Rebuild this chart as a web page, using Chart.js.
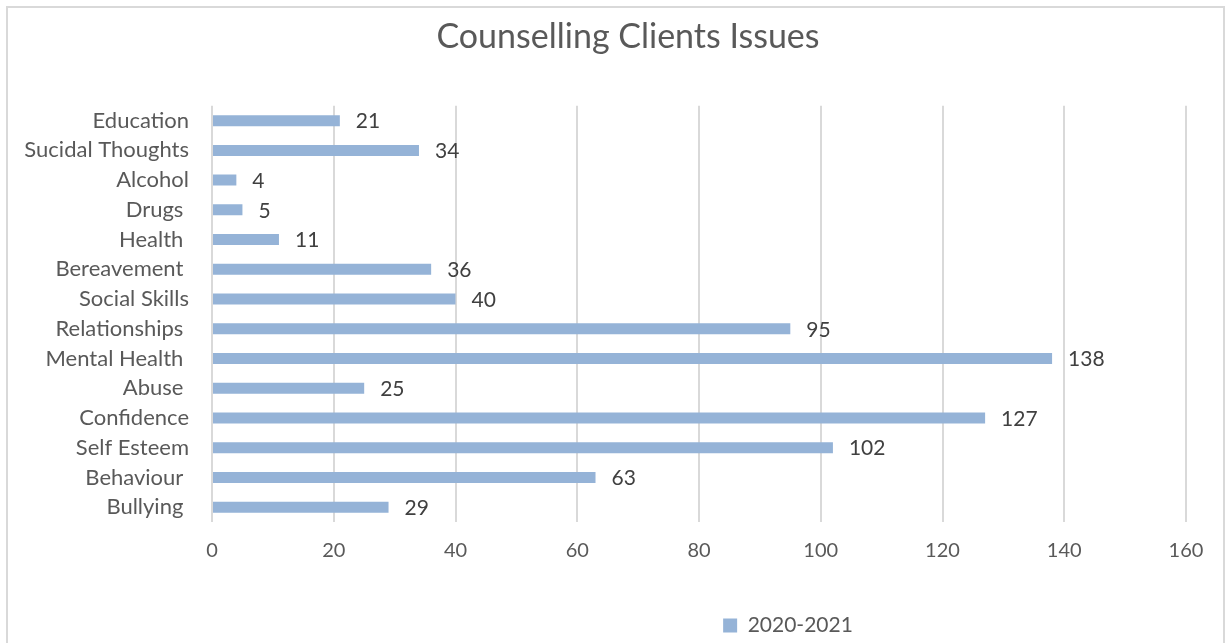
<!DOCTYPE html>
<html>
<head>
<meta charset="utf-8">
<script src="https://cdn.jsdelivr.net/npm/chart.js@4"></script>
<style>
  html, body { margin: 0; padding: 0; background: #fff; }
  #wrap { width: 1226px; height: 643px; }
</style>
</head>
<body>
<div id="wrap"><canvas id="chart" width="1226" height="643"></canvas></div>
<script>
const categories = ['Education', 'Sucidal Thoughts', 'Alcohol', 'Drugs ', 'Health ', 'Bereavement ', 'Social Skills',
    'Relationships ', 'Mental Health ', 'Abuse ', 'Confidence', 'Self Esteem', 'Behaviour ', 'Bullying '];
const counts = [21, 34, 4, 5, 11, 36, 40, 95, 138, 25, 127, 102, 63, 29];
const seriesName = '2020-2021';
const xTicks = [0, 20, 40, 60, 80, 100, 120, 140, 160];

const FONT = 'Lato, "Open Sans", sans-serif';
const BAR_COLOR = '#95B3D7';

// light grey frame around the whole chart, like the spreadsheet export
const framePlugin = {
    id: 'frame',
    beforeDraw(chart) {
        const ctx = chart.ctx;
        ctx.save();
        ctx.fillStyle = '#fff';
        ctx.fillRect(0, 0, chart.width, chart.height);
        ctx.strokeStyle = '#d9d9d9';
        ctx.lineWidth = 2;
        ctx.strokeRect(7, 7, chart.width - 9, chart.height + 10);
        ctx.restore();
    },
    // title and legend sit right of centre in the original
    afterLayout(chart) {
        if (chart.titleBlock) {
            chart.titleBlock.left += 35;
            chart.titleBlock.right += 35;
        }
        if (chart.legend) {
            chart.legend.left += 195;
            chart.legend.right += 195;
            chart.legend.top += 3;
            chart.legend.bottom += 3;
        }
    }
};

// value next to the end of each bar
const valueLabels = {
    id: 'valueLabels',
    afterDatasetsDraw(chart) {
        const ctx = chart.ctx;
        const meta = chart.getDatasetMeta(0);
        ctx.save();
        ctx.font = '21px ' + FONT;
        ctx.fillStyle = '#404040';
        ctx.textAlign = 'left';
        ctx.textBaseline = 'middle';
        meta.data.forEach((bar, i) => {
            ctx.fillText(String(counts[i]), bar.x + 16, bar.y + 1);
        });
        ctx.restore();
    }
};

new Chart(document.getElementById('chart'), {
    type: 'bar',
    data: {
        labels: categories,
        datasets: [{
            label: seriesName,
            data: counts,
            backgroundColor: BAR_COLOR,
            borderWidth: 0,
            barPercentage: 0.37,
            categoryPercentage: 1.0
        }]
    },
    options: {
        indexAxis: 'y',
        responsive: false,
        animation: false,
        layout: { padding: { left: 0, right: 40, top: 0, bottom: 0 } },
        scales: {
            x: {
                min: 0,
                max: 160,
                afterBuildTicks: scale => { scale.ticks = xTicks.map(v => ({ value: v })); },
                afterFit: scale => { scale.height = 80; },
                grid: { color: '#d9d9d9', lineWidth: 2, drawTicks: false },
                border: { display: false },
                ticks: {
                    padding: 17,
                    color: '#595959',
                    font: { family: FONT, size: 20 }
                }
            },
            y: {
                afterFit: scale => { scale.width = 212; },
                grid: { display: false, drawTicks: false },
                border: { display: false },
                ticks: {
                    padding: 23,
                    color: '#595959',
                    font: { family: FONT, size: 22 }
                }
            }
        },
        plugins: {
            title: {
                display: true,
                text: 'Counselling Clients Issues',
                color: '#595959',
                font: { family: FONT, size: 34, weight: 'normal' },
                padding: { top: 17, bottom: 48 }
            },
            legend: {
                position: 'bottom',
                labels: {
                    boxWidth: 14,
                    boxHeight: 14,
                    padding: 10,
                    color: '#595959',
                    font: { family: FONT, size: 21 }
                }
            },
            tooltip: { enabled: false }
        }
    },
    plugins: [framePlugin, valueLabels]
});
</script>
</body>
</html>
